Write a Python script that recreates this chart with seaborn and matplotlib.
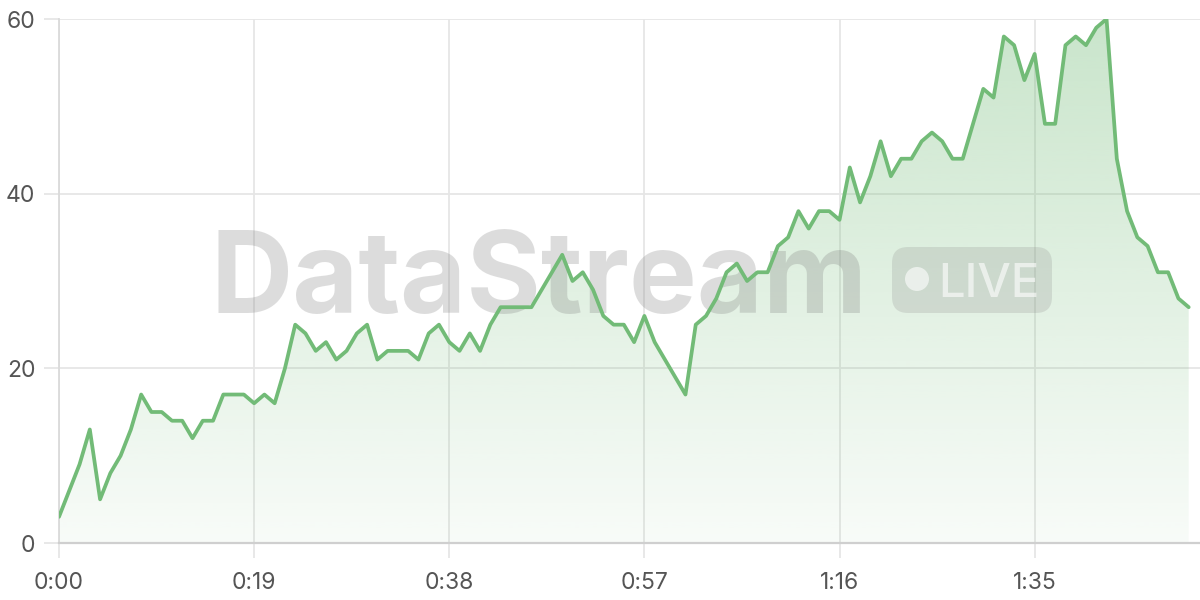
import matplotlib
matplotlib.use("Agg")
import matplotlib.pyplot as plt
import numpy as np
import pandas as pd
import seaborn as sns
from matplotlib.colors import to_rgb
from matplotlib.patches import Circle, FancyBboxPatch
from matplotlib.transforms import IdentityTransform

# ── data (one reading per second) ────────────────────────────────────────────
seconds = list(range(111))
viewers = [
    3, 6, 9, 13, 5, 8, 10, 13, 17, 15,
    15, 14, 14, 12, 14, 14, 17, 17, 17, 16,
    17, 16, 20, 25, 24, 22, 23, 21, 22, 24,
    25, 21, 22, 22, 22, 21, 24, 25, 23, 22,
    24, 22, 25, 27, 27, 27, 27, 29, 31, 33,
    30, 31, 29, 26, 25, 25, 23, 26, 23, 21,
    19, 17, 25, 26, 28, 31, 32, 30, 31, 31,
    34, 35, 38, 36, 38, 38, 37, 43, 39, 42,
    46, 42, 44, 44, 46, 47, 46, 44, 44, 48,
    52, 51, 58, 57, 53, 56, 48, 48, 57, 58,
    57, 59, 60, 44, 38, 35, 34, 31, 31, 28,
    27,
]
x_ticks = [0, 19, 38, 57, 76, 95]
x_tick_labels = ["0:00", "0:19", "0:38", "0:57", "1:16", "1:35"]
y_ticks = [0, 20, 40, 60]

LINE = "#72bb77"
GRID = "#e6e6e6"

sns.set_theme(style="white")
plt.rcParams["font.family"] = ["Inter", "DejaVu Sans"]

df = pd.DataFrame({"t": seconds, "v": viewers})

fig = plt.figure(figsize=(12, 6), dpi=100)
ax = fig.add_axes([59 / 1200, 57 / 600, 1141 / 1200, 524 / 600])

# gradient area under the line
fill = ax.fill_between(df["t"], df["v"], 0, color="none", lw=0)
alpha = np.linspace(0.05, 0.38, 256)
rgba = np.zeros((256, 1, 4))
rgba[..., :3] = to_rgb(LINE)
rgba[:, 0, 3] = alpha
im = ax.imshow(rgba, extent=[0, max(seconds), 0, 60], origin="lower",
               aspect="auto", zorder=1, interpolation="bilinear")
im.set_clip_path(fill.get_paths()[0], transform=ax.transData)

sns.lineplot(data=df, x="t", y="v", color=LINE, lw=2.7, ax=ax, zorder=4)

ax.set_xlim(0, 111.1)
ax.set_ylim(0, 60)
ax.set_xticks(x_ticks, x_tick_labels)
ax.set_yticks(y_ticks)
ax.set_xlabel("")
ax.set_ylabel("")
ax.grid(True, color=GRID, lw=1.3, zorder=0)
ax.set_axisbelow(True)
ax.tick_params(axis="both", bottom=True, left=True, length=11, width=1.3,
               color=GRID, labelsize=16.5, labelcolor="#555555")
ax.tick_params(axis="x", pad=10)
ax.tick_params(axis="y", pad=6)
for side in ["top", "right"]:
    ax.spines[side].set_visible(False)
ax.spines["left"].set_color("#dadada")
ax.spines["left"].set_linewidth(1.3)
ax.spines["bottom"].set_color("#cfcfcf")
ax.spines["bottom"].set_linewidth(1.6)

# ── watermark ────────────────────────────────────────────────────────────────
px = IdentityTransform()
ax.text(210, 287, "DataStream", transform=px, ha="left", va="baseline",
        fontsize=82, fontweight="bold", color="#777777", alpha=0.25, zorder=3)
badge = FancyBboxPatch((892 + 16, 287 + 16), 160 - 32, 66 - 32,
                       boxstyle="round,pad=16", transform=px,
                       facecolor="#888888", edgecolor="none", alpha=0.22,
                       zorder=3)
ax.add_artist(badge)
ax.add_artist(Circle((917, 321), 12, transform=px, facecolor="white",
                     edgecolor="none", alpha=0.6, zorder=3))
ax.text(938, 303, "LIVE", transform=px, ha="left", va="baseline",
        fontsize=34, fontweight="medium", color="white", alpha=0.6, zorder=3)

fig.savefig("out.png", dpi=100)
